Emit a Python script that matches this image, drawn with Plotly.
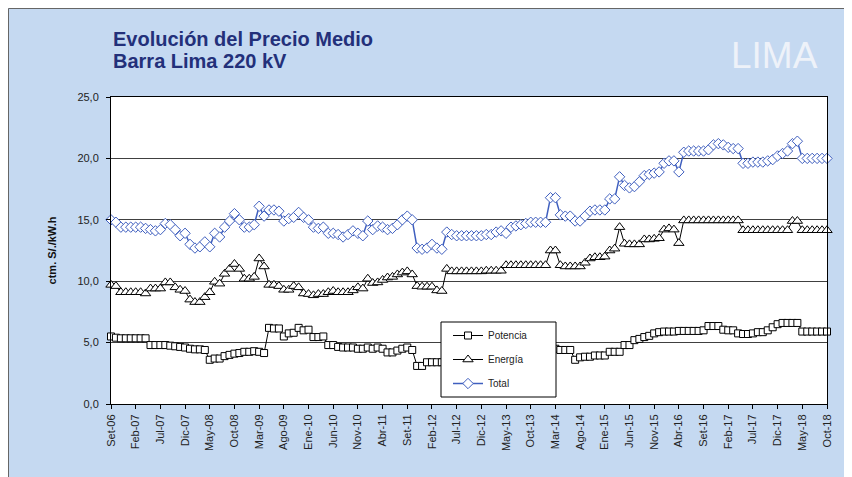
import plotly.graph_objects as go

# meses (Set-06 .. Oct-18)
mes = ["Ene", "Feb", "Mar", "Abr", "May", "Jun", "Jul", "Ago", "Set", "Oct", "Nov", "Dic"]
meses = []
m, a = 8, 2006
while len(meses) < 146:
    meses.append(f"{mes[m]}-{str(a)[2:]}")
    m += 1
    if m == 12:
        m, a = 0, a + 1
tick_labels = meses[::5]

potencia = [
    5.5, 5.4, 5.35, 5.35, 5.35, 5.35, 5.35, 5.35, 4.8, 4.8,
    4.8, 4.8, 4.75, 4.7, 4.65, 4.6, 4.5, 4.45, 4.45, 4.4,
    3.6, 3.7, 3.7, 3.9, 4.0, 4.1, 4.15, 4.25, 4.25, 4.3,
    4.25, 4.15, 6.2, 6.15, 6.15, 5.5, 5.75, 5.8, 6.2, 6.0,
    6.05, 5.45, 5.45, 5.5, 4.8, 4.8, 4.65, 4.6, 4.6, 4.6,
    4.5, 4.5, 4.6, 4.5, 4.6, 4.5, 4.2, 4.2, 4.35, 4.5,
    4.6, 4.4, 3.1, 3.1, 3.4, 3.4, 3.4, 3.4, 3.1, 3.0,
    3.0, 3.0, 3.0, 3.0, 3.0, 3.0, 3.0, 3.0, 3.2, 3.3,
    2.7, 3.1, 3.2, 3.3, 3.4, 3.5, 3.5, 3.5, 3.5, 4.3,
    4.5, 4.4, 4.4, 4.4, 3.6, 3.8, 3.85, 3.85, 3.95, 3.95,
    3.95, 4.25, 4.25, 4.25, 4.8, 4.8, 5.2, 5.3, 5.45, 5.55,
    5.75, 5.85, 5.9, 5.9, 5.9, 5.95, 5.95, 5.95, 5.95, 5.95,
    6.0, 6.35, 6.35, 6.35, 6.05, 6.0, 6.0, 5.75, 5.7, 5.7,
    5.75, 5.85, 5.85, 6.0, 6.25, 6.5, 6.6, 6.6, 6.6, 6.6,
    5.9, 5.9, 5.9, 5.9, 5.9, 5.9,
]

energia = [
    9.7, 9.6, 9.1, 9.1, 9.1, 9.1, 9.1, 9.0, 9.4, 9.4,
    9.4, 9.9, 9.9, 9.5, 9.3, 9.2, 8.5, 8.3, 8.3, 8.7,
    9.1, 9.95, 9.8, 10.6, 11.0, 11.4, 11.0, 10.2, 10.2, 10.35,
    11.85, 11.2, 9.7, 9.7, 9.6, 9.3, 9.3, 9.6, 9.5, 9.0,
    8.95, 8.85, 8.95, 8.95, 9.1, 9.2, 9.1, 9.1, 9.1, 9.25,
    9.5, 9.4, 10.2, 9.85, 9.9, 10.1, 10.3, 10.35, 10.55, 10.7,
    10.8, 10.55, 9.6, 9.55, 9.55, 9.55, 9.25, 9.2, 11.0, 10.8,
    10.8, 10.8, 10.8, 10.8, 10.8, 10.8, 10.85, 10.85, 10.85, 10.85,
    11.3, 11.3, 11.3, 11.3, 11.3, 11.3, 11.3, 11.3, 11.3, 12.5,
    12.5, 11.3, 11.2, 11.2, 11.2, 11.2, 11.5, 11.85, 11.95, 11.95,
    12.0, 12.5, 12.65, 14.4, 13.05, 13.0, 13.0, 13.0, 13.4, 13.4,
    13.45, 13.5, 14.2, 14.3, 14.2, 13.1, 14.95, 14.95, 14.95, 14.95,
    14.95, 14.95, 14.95, 14.95, 14.95, 14.95, 14.95, 14.95, 14.15, 14.15,
    14.15, 14.15, 14.15, 14.15, 14.15, 14.15, 14.15, 14.15, 14.9, 14.9,
    14.15, 14.15, 14.15, 14.15, 14.15, 14.15,
]

total = [
    15.0, 14.8, 14.4, 14.4, 14.4, 14.4, 14.4, 14.3, 14.2, 14.1,
    14.2, 14.7, 14.6, 14.2, 13.7, 13.9, 13.0, 12.7, 12.8, 13.2,
    12.8, 13.9, 13.6, 14.4, 14.9, 15.5, 15.0, 14.4, 14.4, 14.6,
    16.1, 15.3, 15.8, 15.8, 15.7, 14.9, 15.1, 15.2, 15.6, 15.2,
    15.0, 14.4, 14.3, 14.4, 13.9, 13.9, 13.8, 13.6, 13.8, 14.1,
    13.9, 13.7, 14.9, 14.2, 14.5, 14.4, 14.2, 14.3, 14.6, 15.0,
    15.3, 15.0, 12.7, 12.6, 12.7, 13.0, 12.7, 12.6, 14.0, 13.8,
    13.7, 13.7, 13.7, 13.7, 13.7, 13.7, 13.8, 13.8, 14.0, 14.1,
    13.9, 14.4, 14.5, 14.6, 14.7, 14.8, 14.8, 14.8, 14.8, 16.8,
    16.8, 15.4, 15.3, 15.3, 14.9, 14.9, 15.3, 15.7, 15.8, 15.8,
    15.8, 16.7, 16.7, 18.5, 17.8, 17.6, 17.7, 18.1, 18.6, 18.7,
    18.8, 18.9, 19.6, 19.8, 19.8, 18.9, 20.5, 20.6, 20.6, 20.6,
    20.6, 20.7, 21.1, 21.2, 21.1, 20.9, 20.8, 20.8, 19.6, 19.6,
    19.7, 19.7, 19.7, 19.8, 19.9, 20.2, 20.4, 20.6, 21.2, 21.4,
    20.0, 20.0, 20.0, 20.0, 20.0, 20.0,
]

FONT = "Liberation Sans, Arial, sans-serif"
AZUL_FONDO = "#c5d9f1"
AZUL = "#3f5fbf"

# the page body has an 8px margin, so the figure starts at (8, 8)
OFF = 8
FW, FH = 852 - OFF, 477 - OFF
# plot area in page pixels: x 111..827, y 97..404
L, R, T, B = 111 - OFF, 852 - 827, 97 - OFF, 477 - 404
W, H = FW - L - R, FH - T - B
px = lambda v: (v - OFF - L) / W
py = lambda v: (OFF + FH - B - v) / H

fig = go.Figure()
fig.add_trace(go.Scatter(
    x=meses, y=potencia, name="Potencia", mode="lines+markers",
    line=dict(color="black", width=1),
    marker=dict(symbol="square", size=7, color="white", line=dict(color="black", width=1)),
    cliponaxis=False, legendgroup="p"))
fig.add_trace(go.Scatter(
    x=meses, y=energia, name="Energía", mode="lines+markers",
    line=dict(color="black", width=1),
    marker=dict(symbol="triangle-up", size=9, color="white", line=dict(color="black", width=1)),
    cliponaxis=False, legendgroup="e"))
fig.add_trace(go.Scatter(
    x=meses, y=total, name="Total", mode="lines+markers",
    line=dict(color=AZUL, width=1.5),
    marker=dict(symbol="diamond", size=8, color="white", line=dict(color=AZUL, width=1)),
    cliponaxis=False, legendgroup="t"))

fig.update_layout(
    width=FW, height=FH,
    margin=dict(l=L, r=R, t=T, b=B),
    paper_bgcolor=AZUL_FONDO, plot_bgcolor="white",
    separators=",.",
    font=dict(family=FONT, color="#222", size=11),
    showlegend=True,
    legend=dict(x=px(448), y=py(321), xanchor="left", yanchor="top",
                bgcolor="rgba(0,0,0,0)", borderwidth=0,
                font=dict(size=10, color="#222"), traceorder="grouped",
                tracegroupgap=5),
    shapes=[
        # frame of the chart
        dict(type="line", xref="paper", yref="paper", layer="below",
             x0=px(8.5), x1=px(8.5), y0=py(477), y1=py(8.5),
             line=dict(color="#666", width=1)),
        dict(type="line", xref="paper", yref="paper", layer="below",
             x0=px(8.5), x1=px(852), y0=py(8.5), y1=py(8.5),
             line=dict(color="#666", width=1)),
        # legend box
        dict(type="rect", xref="paper", yref="paper", layer="above",
             x0=px(441), x1=px(556), y0=py(397), y1=py(322),
             fillcolor="white", line=dict(color="black", width=1)),
    ],
    annotations=[
        dict(text="<b>Evolución del Precio Medio</b>", xref="paper", yref="paper",
             x=px(111), y=py(39), xanchor="left", yanchor="middle", showarrow=False,
             font=dict(size=20, color="#23307a", family=FONT)),
        dict(text="<b>Barra Lima 220 kV</b>", xref="paper", yref="paper",
             x=px(111), y=py(61), xanchor="left", yanchor="middle", showarrow=False,
             font=dict(size=20, color="#23307a", family=FONT)),
        dict(text="LIMA", xref="paper", yref="paper",
             x=px(774), y=py(56), xanchor="center", yanchor="middle", showarrow=False,
             font=dict(size=37, color="#eef2f9", family=FONT)),
    ],
)

fig.update_xaxes(
    type="category", range=[0, 145],
    tickmode="array", tickvals=tick_labels, ticktext=tick_labels,
    tickangle=-90, tickfont=dict(size=11, color="#222"),
    ticks="outside", ticklen=4, tickcolor="black", ticklabelstandoff=1,
    showline=True, linecolor="black", linewidth=1, mirror=True,
    showgrid=False, zeroline=False,
)
fig.update_yaxes(
    range=[0, 25], dtick=5, tickformat=".1f",
    tickfont=dict(size=11, color="#222"),
    ticks="outside", ticklen=4, tickcolor="black", ticklabelstandoff=5,
    showline=True, linecolor="black", linewidth=1, mirror=True,
    showgrid=True, gridcolor="#404040", gridwidth=1, zeroline=False,
    title=dict(text="<b>ctm. S/./kW.h</b>", font=dict(size=11, color="#111"), standoff=18),
)

fig.write_html("out.html")
